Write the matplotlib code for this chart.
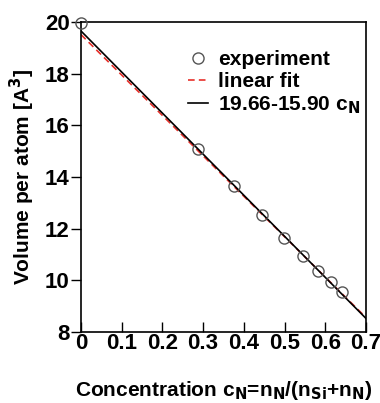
import numpy as np
import matplotlib.pyplot as plt

# concentration c_N and volume per atom
conc = [0.0, 0.287, 0.377, 0.445, 0.499, 0.545, 0.583, 0.614, 0.642]
volume = [19.95, 15.10, 13.65, 12.52, 11.66, 10.93, 10.38, 9.92, 9.57]

fit_a, fit_b = 19.52, 15.65      # red dashed fit
model_a, model_b = 19.66, 15.90  # black line

xticks = [0, 0.1, 0.2, 0.3, 0.4, 0.5, 0.6, 0.7]
xticklabels = ["0", "0.1", "0.2", "0.3", "0.4", "0.5", "0.6", "0.7"]
yticks = [8, 10, 12, 14, 16, 18, 20]

plt.rcParams["font.family"] = ["Liberation Sans", "DejaVu Sans"]
plt.rcParams["font.weight"] = "bold"
plt.rcParams["mathtext.default"] = "bf"

fig = plt.figure(figsize=(3.8, 4.03), dpi=100)
ax = fig.add_axes([0.213, 0.176, 0.75, 0.769])

xx = np.array([0.0, 0.7])
ax.plot(conc, volume, "o", ms=8, mfc="none", mec="#555555", mew=1.0,
        label="experiment", zorder=3, clip_on=False)
ax.plot(xx, fit_a - fit_b * xx, color="#e8302a", lw=1.2, dashes=(4, 2.5),
        label="linear fit", zorder=2)
ax.plot(xx, model_a - model_b * xx, "-", color="black", lw=1.2,
        label=r"19.66-15.90 c$_\mathbf{N}$", zorder=2)

ax.set_xlim(0, 0.7)
ax.set_ylim(8, 20)
ax.set_xticks(xticks)
ax.set_xticklabels(xticklabels)
ax.set_yticks(yticks)
ax.tick_params(axis="x", direction="in", length=7, width=1, labelsize=16, pad=1)
ax.tick_params(axis="y", direction="out", length=7, width=1, labelsize=16, pad=1)
for s in ax.spines.values():
    s.set_linewidth(1.2)

ax.set_xlabel(r"Concentration c$_\mathbf{N}$=n$_\mathbf{N}$/(n$_\mathbf{Si}$+n$_\mathbf{N}$)",
              fontsize=15, fontweight="bold", labelpad=18)
ax.set_ylabel(r"Volume per atom [A$^\mathbf{3}$]", fontsize=15, fontweight="bold", labelpad=6)

ax.legend(loc="upper left", bbox_to_anchor=(0.375, 0.91), frameon=False,
          borderpad=0, borderaxespad=0, fontsize=15, handlelength=0.95,
          handletextpad=0.5, labelspacing=0.15)

fig.savefig("out.png", dpi=100)
